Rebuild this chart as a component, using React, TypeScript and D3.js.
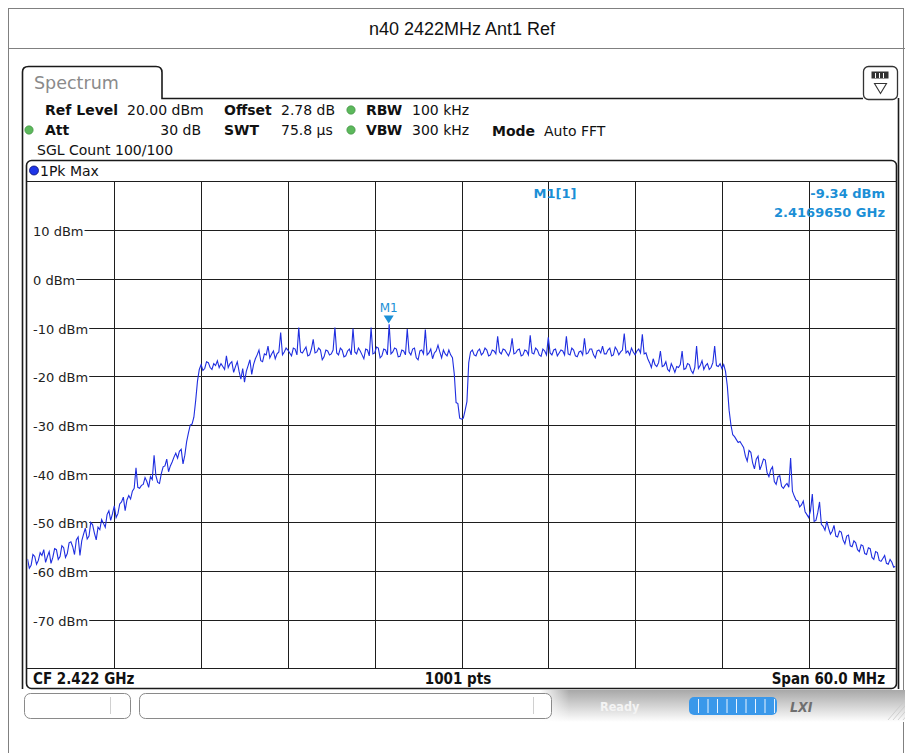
import React, { useEffect, useRef } from 'react';
import * as d3 from 'd3';

const W = 905;
const H = 753;

const title = 'n40 2422MHz Ant1 Ref';
const centerGHz = 2.422;
const spanMHz = 60;
const sweepPoints = 1001;
const sweepStepMHz = 0.125;
const refLevel = 20;
const yTicks = [10, 0, -10, -20, -30, -40, -50, -60, -70];
const yTickLabels = ['10 dBm', '0 dBm', '-10 dBm', '-20 dBm', '-30 dBm', '-40 dBm', '-50 dBm', '-60 dBm', '-70 dBm'];

// 1Pk Max trace, every 0.125 MHz (-30 .. +30 MHz from CF), one row per MHz
const traceDbm = [
  -57.5, -59.4, -58.8, -56.6, -57.0, -58.6, -57.8, -56.2,
  -56.8, -55.6, -58.2, -57.0, -56.0, -58.4, -57.2, -55.4,
  -55.6, -57.6, -57.0, -54.8, -55.2, -57.2, -56.4, -54.2,
  -54.0, -55.0, -56.6, -53.6, -53.0, -56.8, -53.8, -52.4,
  -51.2, -53.4, -52.8, -50.0, -50.5, -52.2, -53.6, -51.0,
  -51.5, -49.4, -50.2, -51.0, -48.4, -47.6, -49.6, -48.2,
  -46.6, -49.0, -48.2, -46.2, -45.8, -44.8, -47.6, -45.4,
  -44.5, -45.2, -43.6, -43.0, -38.8, -42.8, -43.0, -42.4,
  -42.2, -40.8, -41.6, -42.8, -40.6, -41.2, -36.2, -40.4,
  -41.8, -42.0, -40.0, -38.6, -38.4, -37.0, -39.6, -38.4,
  -37.6, -36.6, -35.8, -36.8, -35.4, -35.0, -38.0, -36.2,
  -33.4, -31.6, -30.0, -29.8, -28.4, -25.0, -21.0, -18.6,
  -17.6, -18.8, -18.4, -17.0, -17.2, -18.2, -18.6, -17.4,
  -17.8, -16.8, -18.2, -17.4, -18.0, -18.6, -15.8, -18.2,
  -17.4, -17.0, -19.2, -18.0, -17.0, -19.0, -20.6, -18.4,
  -21.2, -19.0, -17.8, -16.6, -19.6, -17.6, -16.4, -15.6,
  -14.6, -16.8, -17.0, -15.4, -15.6, -13.8, -16.2, -15.4,
  -14.8, -16.4, -15.4, -15.0, -11.0, -15.6, -15.0, -14.2,
  -14.6, -15.2, -15.8, -14.2, -14.4, -15.6, -10.0, -15.0,
  -15.2, -14.6, -14.0, -15.8, -15.6, -14.4, -12.4, -15.2,
  -15.0, -14.2, -14.6, -16.6, -16.0, -14.6, -14.8, -15.6,
  -15.4, -14.6, -10.0, -15.2, -15.6, -14.2, -14.6, -16.0,
  -15.8, -14.8, -14.4, -15.6, -10.2, -15.0, -15.4, -14.2,
  -14.8, -15.6, -16.4, -14.4, -14.6, -15.8, -10.0, -15.4,
  -15.2, -14.0, -14.2, -16.2, -15.8, -14.4, -14.6, -15.6,
  -9.34, -15.4, -15.0, -14.2, -14.4, -16.0, -15.9, -14.6,
  -14.8, -15.6, -10.3, -15.0, -15.6, -14.4, -14.2, -16.2,
  -16.6, -14.8, -14.6, -15.4, -10.4, -15.6, -15.2, -14.4,
  -16.4, -15.2, -14.8, -13.6, -15.0, -16.2, -14.6, -15.4,
  -15.8, -14.6, -15.6, -16.2, -19.5, -25.4, -25.6, -28.6,
  -28.8, -28.6, -27.0, -25.2, -17.2, -15.0, -14.6, -15.6,
  -15.8, -14.8, -14.4, -15.6, -15.2, -14.2, -14.6, -15.8,
  -15.6, -14.6, -14.8, -15.4, -11.8, -15.0, -15.4, -14.4,
  -14.6, -15.2, -15.8, -14.8, -12.2, -15.4, -15.2, -14.6,
  -14.4, -15.8, -15.6, -14.6, -14.8, -15.6, -11.6, -15.2,
  -15.4, -14.2, -14.6, -15.6, -15.9, -14.4, -14.8, -15.6,
  -12.0, -15.2, -15.6, -14.6, -14.4, -15.8, -15.2, -14.6,
  -14.8, -15.6, -11.8, -15.4, -15.6, -14.2, -14.6, -15.8,
  -16.0, -15.0, -14.8, -15.6, -12.2, -15.4, -15.2, -14.4,
  -14.4, -15.6, -16.2, -14.8, -14.6, -15.2, -13.8, -15.4,
  -15.4, -14.6, -14.2, -15.8, -15.6, -14.0, -14.6, -15.6,
  -15.0, -14.6, -11.2, -15.2, -14.8, -15.6, -14.2, -15.0,
  -15.6, -14.8, -14.4, -15.2, -11.4, -15.4, -15.2, -16.4,
  -17.2, -18.2, -16.4, -17.6, -18.0, -17.2, -14.8, -18.0,
  -17.8, -17.0, -18.6, -19.0, -17.4, -18.2, -19.2, -18.0,
  -18.2, -17.6, -14.8, -18.6, -18.4, -17.4, -17.6, -18.8,
  -19.4, -18.2, -13.8, -18.4, -17.8, -16.8, -18.6, -17.8,
  -17.4, -18.6, -18.2, -17.2, -13.8, -17.8, -18.0, -17.4,
  -18.4, -17.6, -19.0, -22.0, -27.0, -30.0, -32.0, -32.4,
  -33.0, -33.6, -33.4, -34.0, -34.6, -36.4, -37.4, -35.2,
  -35.6, -37.8, -39.0, -37.0, -36.4, -39.2, -38.2, -37.0,
  -37.2, -39.8, -40.6, -39.2, -38.6, -41.6, -42.2, -40.6,
  -40.4, -42.6, -43.0, -42.4, -42.0, -42.8, -36.8, -43.6,
  -44.6, -45.4, -45.6, -46.8, -46.4, -45.6, -47.8, -48.4,
  -49.0, -47.6, -44.2, -49.8, -49.6, -48.0, -45.8, -50.4,
  -50.8, -51.6, -49.8, -51.2, -52.4, -51.8, -50.6, -52.8,
  -53.0, -51.8, -52.0, -53.6, -54.4, -52.8, -52.6, -54.8,
  -55.0, -53.8, -54.2, -55.6, -56.0, -54.6, -54.8, -56.4,
  -56.6, -55.2, -55.4, -57.2, -57.6, -56.0, -56.2, -57.8,
  -58.0, -57.4, -56.8, -58.4, -58.6, -57.6, -58.2, -59.2,
  -59.0,
];

const markerName = 'M1';
const markerFreqGHz = 2.416965;
const markerLevel = -9.34;

const FONT = '"DejaVu Sans", Verdana, sans-serif';
const COND = '"DejaVu Sans Condensed", "DejaVu Sans", sans-serif';
const BLUE_TXT = '#1b8fd6';
const GREEN = '#5cb85c';

export default function App() {
  const ref = useRef<SVGSVGElement>(null);

  useEffect(() => {
    if (!ref.current) return;
    const svg = d3.select(ref.current);
    svg.selectAll('*').remove();

    const plot = { left: 27.5, right: 895.5, top: 181.5, bottom: 668.5 };
    const x = d3.scaleLinear().domain([-spanMHz / 2, spanMHz / 2]).range([plot.left, plot.right]);
    const y = d3.scaleLinear().domain([refLevel - 100, refLevel]).range([plot.bottom, plot.top]);

    const defs = svg.append('defs');
    defs.append('clipPath').attr('id', 'plotClip')
      .append('rect').attr('x', plot.left).attr('y', plot.top)
      .attr('width', plot.right - plot.left).attr('height', plot.bottom - plot.top);
    const grad = defs.append('linearGradient').attr('id', 'statusGrad')
      .attr('x1', 0).attr('y1', 0).attr('x2', 0).attr('y2', 1);
    grad.append('stop').attr('offset', '0%').attr('stop-color', '#a8a8a8');
    grad.append('stop').attr('offset', '100%').attr('stop-color', '#ffffff');
    const gradH = defs.append('linearGradient').attr('id', 'statusFade')
      .attr('x1', 0).attr('y1', 0).attr('x2', 1).attr('y2', 0);
    gradH.append('stop').attr('offset', '0%').attr('stop-color', '#fff').attr('stop-opacity', 1);
    gradH.append('stop').attr('offset', '8%').attr('stop-color', '#fff').attr('stop-opacity', 0);

    svg.append('rect').attr('width', W).attr('height', H).attr('fill', '#fff');

    // outer frame and title
    svg.append('rect').attr('x', 8.5).attr('y', 8.5).attr('width', 895).attr('height', 800)
      .attr('fill', 'none').attr('stroke', '#808080');
    svg.append('line').attr('x1', 8).attr('x2', W).attr('y1', 48.5).attr('y2', 48.5)
      .attr('stroke', '#808080');
    svg.append('text').attr('x', 462).attr('y', 35).attr('text-anchor', 'middle')
      .attr('font-family', '"Liberation Sans", Arial, sans-serif').attr('font-size', 18)
      .attr('fill', '#111').text(title);

    // window with Spectrum tab
    svg.append('path')
      .attr('d', 'M22.5,689 L22.5,72 Q22.5,66.5 28.5,66.5 L156,66.5 Q162,66.5 162,72.5 L162,98.5 L863,98.5')
      .attr('fill', 'none').attr('stroke', '#1a1a1a').attr('stroke-width', 1.6);
    svg.append('text').attr('x', 34).attr('y', 89)
      .attr('font-family', FONT).attr('font-size', 17.5)
      .attr('fill', '#8a8a8a').text('Spectrum');
    svg.append('line').attr('x1', 898.5).attr('x2', 898.5).attr('y1', 98).attr('y2', 689)
      .attr('stroke', '#1a1a1a').attr('stroke-width', 1.6);

    // top right icon
    svg.append('rect').attr('x', 863.5).attr('y', 66.5).attr('width', 34).attr('height', 33).attr('rx', 5)
      .attr('fill', '#fff').attr('stroke', '#333').attr('stroke-width', 1.3);
    svg.append('rect').attr('x', 871.5).attr('y', 71.5).attr('width', 17).attr('height', 7)
      .attr('fill', '#333');
    [875, 879, 883].forEach(v => svg.append('line').attr('x1', v + 0.5).attr('x2', v + 0.5)
      .attr('y1', 73).attr('y2', 78).attr('stroke', '#fff'));
    svg.append('path').attr('d', 'M874.5,83.5 L886.5,83.5 L880.5,93.5 Z')
      .attr('fill', 'none').attr('stroke', '#333').attr('stroke-width', 1.1);

    // settings panel
    const info = svg.append('g').attr('font-family', FONT).attr('font-size', 14).attr('fill', '#111');
    const txt = (xx: number, yy: number, s: string, bold = false, anchor = 'start') =>
      info.append('text').attr('x', xx).attr('y', yy).attr('font-weight', bold ? 'bold' : 'normal')
        .attr('text-anchor', anchor).text(s);
    const dot = (xx: number, yy: number) =>
      svg.append('circle').attr('cx', xx).attr('cy', yy).attr('r', 4.2)
        .attr('fill', GREEN).attr('stroke', '#3d8b3d').attr('stroke-width', 0.6);
    txt(45, 115, 'Ref Level', true);
    txt(127, 115, '20.00 dBm');
    txt(224, 115, 'Offset', true);
    txt(281, 115, '2.78 dB');
    dot(351, 110);
    txt(366, 115, 'RBW', true);
    txt(412, 115, '100 kHz');
    dot(29, 130);
    txt(45, 135, 'Att', true);
    txt(201, 135, '30 dB', false, 'end');
    txt(224, 135, 'SWT', true);
    txt(281, 135, '75.8 µs');
    dot(351, 130);
    txt(366, 135, 'VBW', true);
    txt(412, 135, '300 kHz');
    txt(492, 136, 'Mode', true);
    txt(544, 136, 'Auto FFT');
    txt(37, 155, 'SGL Count 100/100');

    // diagram panel
    svg.append('rect').attr('x', 26.5).attr('y', 160.5).attr('width', 870).attr('height', 528).attr('rx', 5)
      .attr('fill', '#fff').attr('stroke', '#1a1a1a').attr('stroke-width', 1.6);
    svg.append('circle').attr('cx', 34).attr('cy', 170.5).attr('r', 4.5)
      .attr('fill', '#1e35e8').attr('stroke', '#0a1070').attr('stroke-width', 0.8);
    svg.append('text').attr('x', 40).attr('y', 175.5).attr('font-family', FONT).attr('font-size', 14)
      .attr('fill', '#111').text('1Pk Max');

    const grid = svg.append('g').attr('stroke', '#1e1e1e').attr('stroke-width', 1);
    grid.append('line').attr('x1', 26).attr('x2', 897).attr('y1', plot.top).attr('y2', plot.top);
    grid.append('line').attr('x1', 26).attr('x2', 897).attr('y1', plot.bottom).attr('y2', plot.bottom);
    d3.range(-spanMHz / 2 + 6, spanMHz / 2, 6).forEach(f => {
      const xx = Math.round(x(f)) + 0.5;
      grid.append('line').attr('x1', xx).attr('x2', xx).attr('y1', plot.top).attr('y2', plot.bottom);
    });

    const labels = svg.append('g').attr('font-family', FONT).attr('font-size', 13).attr('fill', '#222');
    yTicks.forEach((v, i) => {
      const yy = Math.round(y(v)) + 0.5;
      const t = labels.append('text').attr('x', 33).attr('y', yy + 5).text(yTickLabels[i]);
      const len = (t.node() as SVGTextElement).getComputedTextLength();
      grid.append('line').attr('x1', 33 + len + 1).attr('x2', plot.right).attr('y1', yy).attr('y2', yy);
    });

    // trace
    const pts = traceDbm.map((v, i) => [-spanMHz / 2 + i * sweepStepMHz, v] as [number, number]);
    svg.append('path').datum(pts)
      .attr('clip-path', 'url(#plotClip)')
      .attr('d', d3.line<[number, number]>().x(d => x(d[0])).y(d => y(d[1])))
      .attr('fill', 'none').attr('stroke', '#1f2ee0').attr('stroke-width', 1.1)
      .attr('stroke-linejoin', 'miter');

    // marker
    const mx = x((markerFreqGHz - centerGHz) * 1000);
    const my = y(markerLevel);
    svg.append('path').attr('d', `M${mx - 5},${my - 9} L${mx + 5},${my - 9} L${mx},${my - 1} Z`)
      .attr('fill', BLUE_TXT);
    svg.append('text').attr('x', mx).attr('y', my - 12).attr('text-anchor', 'middle')
      .attr('font-family', FONT).attr('font-size', 12).attr('fill', BLUE_TXT).text(markerName);

    const mInfo = svg.append('g').attr('font-family', FONT).attr('font-size', 13)
      .attr('font-weight', 'bold').attr('fill', BLUE_TXT);
    mInfo.append('text').attr('x', 555).attr('y', 198).attr('text-anchor', 'middle').text(`${markerName}[1]`);
    mInfo.append('text').attr('x', 885).attr('y', 198).attr('text-anchor', 'end')
      .text(`${markerLevel.toFixed(2)} dBm`);
    mInfo.append('text').attr('x', 885).attr('y', 217).attr('text-anchor', 'end')
      .text(`${markerFreqGHz.toFixed(7)} GHz`);

    // footer
    const foot = svg.append('g').attr('font-family', COND).attr('font-size', 15)
      .attr('font-weight', 'bold').attr('fill', '#111');
    foot.append('text').attr('x', 33).attr('y', 684).text(`CF ${centerGHz.toFixed(3)} GHz`);
    foot.append('text').attr('x', 458).attr('y', 684).attr('text-anchor', 'middle').text(`${sweepPoints} pts`);
    foot.append('text').attr('x', 885).attr('y', 684).attr('text-anchor', 'end').text(`Span ${spanMHz.toFixed(1)} MHz`);

    // status bar
    svg.append('rect').attr('x', 540).attr('y', 690).attr('width', W - 540).attr('height', 32)
      .attr('fill', 'url(#statusGrad)');
    svg.append('rect').attr('x', 540).attr('y', 690).attr('width', W - 540).attr('height', 32)
      .attr('fill', 'url(#statusFade)');
    svg.append('rect').attr('x', 24.5).attr('y', 693.5).attr('width', 106).attr('height', 25).attr('rx', 6)
      .attr('fill', '#fff').attr('stroke', '#8a8a8a');
    svg.append('line').attr('x1', 110.5).attr('x2', 110.5).attr('y1', 697).attr('y2', 714).attr('stroke', '#d0d0d0');
    svg.append('rect').attr('x', 139.5).attr('y', 693.5).attr('width', 412).attr('height', 25).attr('rx', 6)
      .attr('fill', '#fff').attr('stroke', '#8a8a8a');
    svg.append('line').attr('x1', 533.5).attr('x2', 533.5).attr('y1', 697).attr('y2', 714).attr('stroke', '#d0d0d0');
    svg.append('text').attr('x', 600).attr('y', 711).attr('font-family', COND).attr('font-size', 12.5)
      .attr('font-weight', 'bold').attr('fill', '#f4f4f4').text('Ready');
    svg.append('rect').attr('x', 689).attr('y', 697).attr('width', 88).attr('height', 18).attr('rx', 5)
      .attr('fill', '#3a98ea');
    d3.range(698.5, 776, 9.5).forEach(v => svg.append('line').attr('x1', v).attr('x2', v)
      .attr('y1', 699).attr('y2', 713).attr('stroke', '#e8f3ff').attr('stroke-width', 1));
    svg.append('text').attr('x', 790).attr('y', 712).attr('font-family', COND).attr('font-size', 14)
      .attr('font-weight', 'bold').attr('font-style', 'italic').attr('fill', '#6f6f6f').text('LXI');
    d3.range(0, 4).forEach(k => svg.append('line')
      .attr('x1', 888 + k * 5).attr('y1', 720).attr('x2', 905 + k * 5).attr('y2', 700)
      .attr('stroke', '#c8c8c8').attr('stroke-width', 0.8));
  }, []);

  return (
    <div style={{ position: 'absolute', left: 0, top: 0 }}>
      <svg ref={ref} width={W} height={H} style={{ display: 'block' }} />
    </div>
  );
}
